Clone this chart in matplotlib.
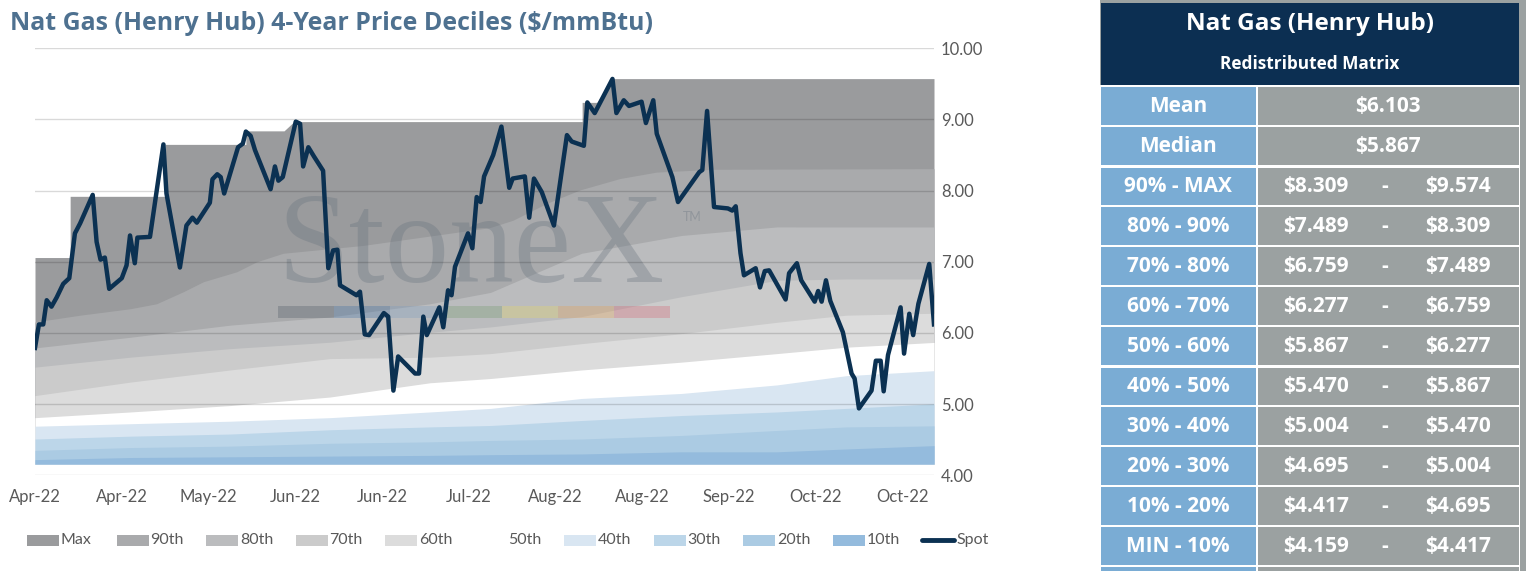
import matplotlib
matplotlib.use("Agg")
import matplotlib.pyplot as plt
from matplotlib.patches import Rectangle

plt.rcParams['font.family'] = ['Lato', 'DejaVu Sans']

# x positions are day offsets from the first date of the chart
tick_days = [0, 20, 40, 60, 80, 100, 120, 140, 160, 180, 200]
tick_labels = ["Apr-22", "Apr-22", "May-22", "Jun-22", "Jun-22", "Jul-22",
               "Aug-22", "Aug-22", "Sep-22", "Oct-22", "Oct-22"]

# Spot price (vertices)
spot_day = [0.0, 0.9, 1.9, 2.7, 3.8, 5.0, 6.5, 7.9, 9.2, 10.4,
            13.3, 14.2, 15.1, 16.1, 17.1, 20.0, 21.1, 21.9, 23.0, 23.6,
            26.5, 29.6, 30.3, 33.4, 34.9, 36.3, 37.3, 40.3, 40.9, 42.0,
            42.8, 43.6, 46.8, 47.9, 48.6, 49.7, 50.7, 54.3, 55.3, 56.1,
            57.1, 60.1, 61.1, 61.8, 63.0, 64.3, 66.4, 67.6, 68.7, 69.7,
            70.3, 74.1, 74.9, 76.0, 77.0, 80.4, 81.4, 82.6, 83.7, 87.6,
            88.5, 89.5, 90.3, 93.2, 94.1, 95.2, 96.0, 96.8, 99.8, 100.8,
            101.8, 102.7, 103.5, 105.6, 107.5, 109.3, 110.1, 112.9, 113.9, 115.0,
            116.8, 119.6, 122.6, 123.7, 126.5, 127.3, 129.0, 133.1, 134.0, 135.7,
            136.9, 139.8, 140.8, 142.5, 143.3, 146.9, 148.2, 153.1, 153.8, 154.9,
            156.5, 159.7, 160.7, 161.5, 162.6, 163.4, 166.1, 167.1, 168.2, 169.2,
            173.0, 173.8, 175.6, 176.6, 179.7, 180.5, 181.3, 182.3, 183.3, 186.2,
            188.2, 188.9, 189.9, 192.8, 193.8, 194.9, 195.6, 196.6, 199.5, 200.3,
            201.5, 202.4, 203.6, 206.1, 207.2]
spot = [5.79, 6.12, 6.12, 6.46, 6.37, 6.50, 6.69, 6.77, 7.40, 7.54,
        7.94, 7.28, 7.03, 7.06, 6.62, 6.77, 6.95, 7.37, 6.98, 7.34,
        7.35, 8.65, 7.96, 6.92, 7.51, 7.62, 7.55, 7.83, 8.16, 8.23,
        8.19, 7.96, 8.61, 8.66, 8.83, 8.77, 8.57, 8.02, 8.34, 8.14,
        8.19, 8.97, 8.94, 8.34, 8.61, 8.48, 8.28, 6.91, 7.16, 7.17,
        6.67, 6.53, 6.58, 5.98, 5.97, 6.28, 6.23, 5.19, 5.67, 5.43,
        5.43, 6.23, 5.97, 6.36, 6.08, 6.60, 6.53, 6.93, 7.40, 7.19,
        7.91, 7.84, 8.20, 8.50, 8.90, 8.04, 8.17, 8.20, 7.62, 8.17,
        7.98, 7.51, 8.78, 8.69, 8.63, 9.24, 9.09, 9.57, 9.09, 9.27,
        9.19, 9.25, 8.95, 9.27, 8.80, 8.19, 7.84, 8.26, 8.29, 9.12,
        7.77, 7.75, 7.72, 7.78, 7.12, 6.81, 6.91, 6.64, 6.87, 6.88,
        6.47, 6.84, 6.98, 6.74, 6.44, 6.59, 6.44, 6.74, 6.45, 6.01,
        5.43, 5.36, 4.94, 5.19, 5.61, 5.61, 5.18, 5.69, 6.36, 5.71,
        6.27, 5.97, 6.41, 6.97, 6.12]

# Decile bands
max_day = [0, 8.1, 8.1, 30.0, 30.0, 48.6, 48.6, 57.4, 59.7, 126.1, 126.1, 129.5, 133.1, 207.2]
max_val = [7.06, 7.06, 7.92, 7.92, 8.65, 8.65, 8.84, 8.84, 8.97, 8.97, 9.24, 9.24, 9.574, 9.574]

p90_day = [0, 10.4, 21.9, 28.0, 34.2, 38.8, 46.5, 51.1, 57.2, 75.6, 104.8, 110.2,
           117.9, 125.6, 134.8, 143.2, 156.3, 207.2]
p90 = [6.155, 6.25, 6.34, 6.41, 6.58, 6.72, 6.86, 7.00, 7.12, 7.23, 7.48, 7.585,
       7.82, 8.01, 8.17, 8.26, 8.30, 8.309]

pct_day = [0, 22, 45, 68, 91, 105, 126, 149, 171, 187, 207.2]
p80 = [5.79, 5.94, 6.11, 6.225, 6.41, 6.57, 7.12, 7.37, 7.49, 7.489, 7.489]
p70 = [5.52, 5.66, 5.78, 5.87, 6.01, 6.085, 6.23, 6.51, 6.74, 6.759, 6.759]
p60 = [5.12, 5.31, 5.48, 5.64, 5.66, 5.71, 5.85, 5.99, 6.15, 6.25, 6.277]
p50 = [4.81, 4.89, 4.98, 5.10, 5.30, 5.36, 5.48, 5.59, 5.71, 5.80, 5.867]
p40 = [4.69, 4.725, 4.76, 4.81, 4.89, 4.94, 5.08, 5.15, 5.27, 5.40, 5.470]
p30 = [4.51, 4.55, 4.58, 4.64, 4.68, 4.70, 4.77, 4.84, 4.89, 4.94, 5.004]
p20 = [4.35, 4.39, 4.41, 4.45, 4.47, 4.49, 4.51, 4.56, 4.63, 4.68, 4.695]
p10 = [4.22, 4.25, 4.26, 4.27, 4.28, 4.29, 4.30, 4.33, 4.33, 4.37, 4.417]
min_val = 4.159

band_names = ["Max", "90th", "80th", "70th", "60th", "50th", "40th", "30th", "20th", "10th"]
band_colors = ["#9a9b9d", "#a9aaac", "#bbbcbe", "#cbcbcb", "#dcdcdc", "#ffffff",
               "#d9e6f2", "#bcd6e9", "#abcbe3", "#94bbdd"]

# Table on the right
stat_labels = ["Mean", "Median"]
stat_values = [6.103, 5.867]
range_labels = ["90% - MAX", "80% - 90%", "70% - 80%", "60% - 70%", "50% - 60%",
                "40% - 50%", "30% - 40%", "20% - 30%", "10% - 20%", "MIN - 10%"]
range_low = [8.309, 7.489, 6.759, 6.277, 5.867, 5.470, 5.004, 4.695, 4.417, 4.159]
range_high = [9.574, 8.309, 7.489, 6.759, 6.277, 5.867, 5.470, 5.004, 4.695, 4.417]

W, H = 1526, 571
fig = plt.figure(figsize=(W / 100, H / 100), dpi=100)

# main chart, placed in pixel terms
x0, x1, ytop, ybot = 35, 934, 48.3, 475.3
ax = fig.add_axes([x0 / W, 1 - ybot / H, (x1 - x0) / W, (ybot - ytop) / H])

band_x = [max_day, p90_day] + [pct_day] * 8
band_y = [max_val, p90, p80, p70, p60, p50, p40, p30, p20, p10]
for bx, by, c in zip(band_x, band_y, band_colors):
    ax.fill_between(bx, min_val, by, color=c, lw=0, zorder=1)

ax.plot(spot_day, spot, color="#0b3152", lw=3.2, solid_joinstyle="round", zorder=4)

ax.set_xlim(0, 207.2)
ax.set_ylim(4, 10)
ax.set_yticks([4, 5, 6, 7, 8, 9, 10])
ax.set_yticklabels([f"{v:.2f}" for v in [4, 5, 6, 7, 8, 9, 10]])
ax.yaxis.tick_right()
ax.set_xticks(tick_days)
ax.set_xticklabels(tick_labels)
ax.tick_params(axis="y", length=0, pad=5, labelsize=12, labelcolor="#595959")
ax.tick_params(axis="x", length=0, pad=10, labelsize=12, labelcolor="#595959")
ax.grid(axis="y", color="black", alpha=0.15, lw=1)
ax.set_axisbelow(False)
for s in ax.spines.values():
    s.set_visible(False)

# StoneX watermark
ax.text(0.27, 0.453, "StoneX", transform=ax.transAxes, family="Liberation Serif",
        fontsize=93, color="#64707c", alpha=0.32, va="baseline", ha="left", zorder=2)
ax.text(0.721, 0.595, "TM", transform=ax.transAxes, fontsize=9,
        color="#64707c", alpha=0.35, va="baseline", ha="left", zorder=2)
logo_colors = ["#4a5560", "#3a6ea5", "#7a9cc0", "#6f9a6a", "#e8d860", "#e8a050", "#d86070"]
for i, c in enumerate(logo_colors):
    ax.add_patch(Rectangle((0.2703 + i * 0.0623, 0.369), 0.0623, 0.028,
                           transform=ax.transAxes, color=c, alpha=0.3, lw=0, zorder=2))

# overlay in pixel coordinates for title, legend and table
ov = fig.add_axes([0, 0, 1, 1])
ov.set_xlim(0, W)
ov.set_ylim(H, 0)
ov.axis("off")
ov.patch.set_alpha(0)

ov.text(10, 24, "Nat Gas (Henry Hub) 4-Year Price Deciles ($/mmBtu)", fontsize=17.9,
        family="Open Sans", fontweight="bold", color="#4e7190", va="center", ha="left")

# legend
for i, name in enumerate(band_names + ["Spot"]):
    lx = 27 + 89.5 * i
    if name == "Spot":
        ov.plot([lx, lx + 32], [540, 540], color="#0b3152", lw=3.5, solid_capstyle="round")
    else:
        ov.add_patch(Rectangle((lx, 534.5), 32, 11, color=band_colors[i], lw=0))
    ov.text(lx + 34, 540, name, fontsize=11.5, color="#595959", va="center", ha="left")

# table
navy, blue, grey = "#0c2f52", "#7aacd4", "#9ba1a1"
tf = dict(family="Open Sans", fontweight="bold", color="white", va="center", ha="center")
ov.add_patch(Rectangle((1100, 0), 426, 571, color=grey, lw=0))
ov.add_patch(Rectangle((1100, 85), 420, 486, color="white", lw=0))
ov.add_patch(Rectangle((1101, 3), 418, 82, color=navy, lw=0))
ov.text(1310, 24, "Nat Gas (Henry Hub)", fontsize=17.5, **tf)
ov.text(1310, 64, "Redistributed Matrix", fontsize=12.4, **tf)

rows = list(zip(stat_labels, [f"${v:.3f}" for v in stat_values], [None, None]))
rows += list(zip(range_labels, [f"${v:.3f}" for v in range_low],
                 [f"${v:.3f}" for v in range_high]))
for i, (lab, lo, hi) in enumerate(rows + [(None, None, None)]):
    cy = 106 + 40 * i
    top, h = cy - 19, 38
    if i in (2, 7):
        top, h = top + 1, h - 1
    ov.add_patch(Rectangle((1101, top), 155, h, color=blue, lw=0))
    ov.add_patch(Rectangle((1258, top), 261, h, color=grey, lw=0))
    if lab is None:
        continue
    ov.text(1178, cy + 1, lab, fontsize=15, **tf)
    if hi is None:
        ov.text(1388, cy + 1, lo, fontsize=15, **tf)
    else:
        ov.text(1316, cy + 1, lo, fontsize=15, **tf)
        ov.text(1385, cy + 1, "-", fontsize=15, **tf)
        ov.text(1458, cy + 1, hi, fontsize=15, **tf)

fig.savefig("out.png", dpi=100)
